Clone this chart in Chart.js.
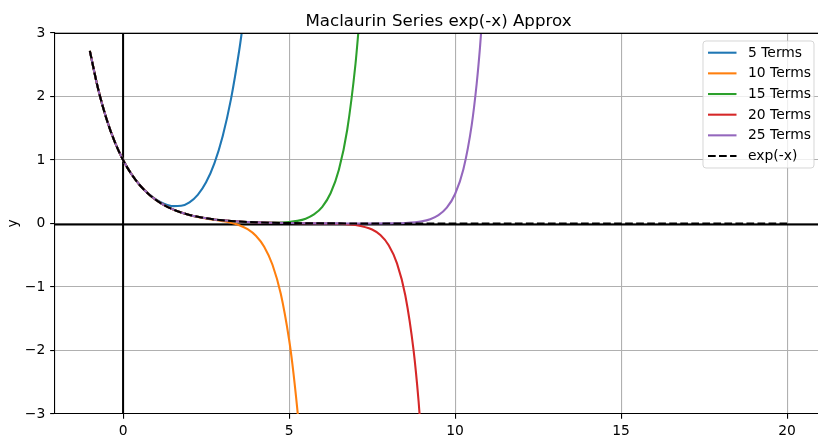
<!DOCTYPE html>
<html>
<head>
<meta charset="utf-8">
<script src="https://cdn.jsdelivr.net/npm/chart.js@4.4.1/dist/chart.umd.min.js"></script>
<style>
  html, body { margin: 0; padding: 0; background: #fff; overflow: hidden; }
  canvas { display: block; }
</style>
</head>
<body>
<canvas id="c" width="818" height="435"></canvas>
<script>
// Maclaurin partial sums of exp(-x), sampled values
const seriesLabels = ['5 Terms', '10 Terms', '15 Terms', '20 Terms', '25 Terms', 'exp(-x)'];
const seriesColors = ['#1f77b4', '#ff7f0e', '#2ca02c', '#d62728', '#9467bd', '#000000'];

const x5  = [-1, -0.75, -0.5, -0.25, 0, 0.25, 0.5, 0.75, 1, 1.25, 1.5, 1.75, 2, 2.25, 2.5, 2.75, 3, 3.25, 3.5, 3.6];
const y5  = [2.7083, 2.1148, 1.6484, 1.2840, 1.0000, 0.7788, 0.6068, 0.4741, 0.3750, 0.3075, 0.2734, 0.2788,
             0.3333, 0.4507, 0.6484, 0.9481, 1.3750, 1.9585, 2.7318, 3.1024];

const x10 = [-1, -0.75, -0.5, -0.25, 0, 0.25, 0.5, 0.75, 1, 1.25, 1.5, 1.75, 2, 2.25, 2.5, 2.75, 3, 3.25, 3.5,
             3.75, 4, 4.25, 4.5, 4.75, 5, 5.1, 5.25, 5.3];
const y10 = [2.7183, 2.1170, 1.6487, 1.2840, 1.0000, 0.7788, 0.6065, 0.4724, 0.3679, 0.2865, 0.2231, 0.1738,
             0.1351, 0.1046, 0.0800, 0.0585, 0.0371, 0.0109, -0.0272, -0.0889, -0.1922, -0.3653, -0.6498,
             -1.1075, -1.8271, -2.2150, -2.9342, -3.2163];

const x15 = [-1, -0.75, -0.5, -0.25, 0, 0.25, 0.5, 0.75, 1, 1.25, 1.5, 1.75, 2, 2.25, 2.5, 2.75, 3, 3.25, 3.5,
             3.75, 4, 4.5, 5, 5.25, 5.5, 5.75, 6, 6.25, 6.5, 6.75, 7, 7.1];
const y15 = [2.7183, 2.1170, 1.6487, 1.2840, 1.0000, 0.7788, 0.6065, 0.4724, 0.3679, 0.2865, 0.2231, 0.1738,
             0.1353, 0.1054, 0.0821, 0.0639, 0.0498, 0.0388, 0.0303, 0.0238, 0.0190, 0.0148, 0.0245, 0.0416,
             0.0763, 0.1423, 0.2628, 0.4766, 0.8466, 1.4729, 2.5120, 3.0934];

const x20 = [-1, -0.75, -0.5, -0.25, 0, 0.25, 0.5, 0.75, 1, 1.25, 1.5, 1.75, 2, 2.25, 2.5, 2.75, 3, 3.25, 3.5,
             3.75, 4, 4.5, 5, 5.5, 6, 6.5, 7, 7.5, 7.75, 8, 8.25, 8.5, 8.75, 8.9, 9];
const y20 = [2.7183, 2.1170, 1.6487, 1.2840, 1.0000, 0.7788, 0.6065, 0.4724, 0.3679, 0.2865, 0.2231, 0.1738,
             0.1353, 0.1054, 0.0821, 0.0639, 0.0498, 0.0388, 0.0302, 0.0235, 0.0183, 0.0111, 0.0067, 0.0039,
             0.0013, -0.0042, -0.0236, -0.0952, -0.1824, -0.3416, -0.6270, -1.1294, -1.9996, -2.7950, -3.4830];

const x25 = [-1, -0.75, -0.5, -0.25, 0, 0.25, 0.5, 0.75, 1, 1.25, 1.5, 1.75, 2, 2.25, 2.5, 2.75, 3, 3.25, 3.5,
             3.75, 4, 4.5, 5, 5.5, 6, 6.5, 7, 7.5, 8, 8.5, 9, 9.25, 9.5, 9.75, 10, 10.25, 10.5, 10.65, 10.75, 10.85];
const y25 = [2.7183, 2.1170, 1.6487, 1.2840, 1.0000, 0.7788, 0.6065, 0.4724, 0.3679, 0.2865, 0.2231, 0.1738,
             0.1353, 0.1054, 0.0821, 0.0639, 0.0498, 0.0388, 0.0302, 0.0235, 0.0183, 0.0111, 0.0067, 0.0041,
             0.0025, 0.0015, 0.0010, 0.0009, 0.0022, 0.0085, 0.0344, 0.0676, 0.1307, 0.2483, 0.4643, 0.8547,
             1.5503, 2.2010, 2.7724, 3.4850];

const xExp = [-1, -0.75, -0.5, -0.25, 0, 0.25, 0.5, 0.75, 1, 1.25, 1.5, 1.75, 2, 2.25, 2.5, 2.75, 3, 3.25, 3.5,
              3.75, 4, 4.5, 5, 5.5, 6, 6.5, 7, 8, 9, 10, 12, 14, 16, 18, 20];
const yExp = [2.7183, 2.1170, 1.6487, 1.2840, 1.0000, 0.7788, 0.6065, 0.4724, 0.3679, 0.2865, 0.2231, 0.1738,
              0.1353, 0.1054, 0.0821, 0.0639, 0.0498, 0.0388, 0.0302, 0.0235, 0.0183, 0.0111, 0.0067, 0.0041,
              0.0025, 0.0015, 0.0009, 0.0003, 0.0001, 0, 0, 0, 0, 0, 0];

const xTicks = [0, 5, 10, 15, 20];
const xTickLabels = ['0', '5', '10', '15', '20'];
const yTicks = [-3, -2, -1, 0, 1, 2, 3];
const yTickLabels = ['\u22123', '\u22122', '\u22121', '0', '1', '2', '3'];

// visible x range (axes run on past the right edge of the canvas)
const xLimits = [-2.05, 20.93];
const xAxesMid = 9.5;       // middle of the full axes span -2.05 .. 21.05
const yLimits = [-3, 3];

const FONT = "'DejaVu Sans', 'Liberation Sans', sans-serif";
const LW = 2.08;            // 1.5 pt line width
const DASH = [7.7, 3.33];   // dashed style for the exact curve

const toPoints = (xs, ys) => xs.map((v, i) => ({ x: v, y: ys[i] }));
const seriesX = [x5, x10, x15, x20, x25, xExp];
const seriesY = [y5, y10, y15, y20, y25, yExp];

const datasets = seriesLabels.map((label, i) => ({
  label,
  data: toPoints(seriesX[i], seriesY[i]),
  borderColor: seriesColors[i],
  backgroundColor: seriesColors[i],
  borderWidth: LW,
  borderDash: i === 5 ? DASH : [],
  pointRadius: 0,
  fill: false,
  cubicInterpolationMode: 'monotone',
  clip: 0,
  // later series are painted over earlier ones
  order: seriesLabels.length - i
}));

const decorations = {
  id: 'decorations',
  beforeDatasetsDraw(chart) {
    // reference lines through the origin
    const { ctx, chartArea: a, scales: { x, y } } = chart;
    ctx.save();
    ctx.beginPath();
    ctx.rect(a.left, a.top, a.right - a.left, a.bottom - a.top);
    ctx.clip();
    ctx.strokeStyle = '#000';
    ctx.lineWidth = 2;
    const x0 = x.getPixelForValue(0);
    const y0 = y.getPixelForValue(0) + 1;
    ctx.beginPath();
    ctx.moveTo(x0, a.top); ctx.lineTo(x0, a.bottom);
    ctx.moveTo(a.left, y0); ctx.lineTo(a.right, y0);
    ctx.stroke();
    ctx.restore();
  },
  afterDatasetsDraw(chart) {
    // top frame line
    const { ctx, chartArea: a } = chart;
    ctx.save();
    ctx.strokeStyle = '#000';
    ctx.lineWidth = 1.1;
    ctx.beginPath();
    ctx.moveTo(a.left, a.top + 0.5);
    ctx.lineTo(a.right, a.top + 0.5);
    ctx.stroke();
    ctx.restore();
  },
  afterDraw(chart) {
    const { ctx, scales: { x } } = chart;
    ctx.save();
    // title, centred over the axes
    ctx.fillStyle = '#000';
    ctx.font = `16.67px ${FONT}`;
    ctx.textAlign = 'center';
    ctx.textBaseline = 'alphabetic';
    ctx.fillText('Maclaurin Series exp(-x) Approx', x.getPixelForValue(xAxesMid), 25.5);

    // legend box in the upper right corner
    const bx = 703, by = 41, bw = 111, bh = 127, r = 3;
    ctx.beginPath();
    ctx.moveTo(bx + r, by);
    ctx.lineTo(bx + bw - r, by); ctx.arcTo(bx + bw, by, bx + bw, by + r, r);
    ctx.lineTo(bx + bw, by + bh - r); ctx.arcTo(bx + bw, by + bh, bx + bw - r, by + bh, r);
    ctx.lineTo(bx + r, by + bh); ctx.arcTo(bx, by + bh, bx, by + bh - r, r);
    ctx.lineTo(bx, by + r); ctx.arcTo(bx, by, bx + r, by, r);
    ctx.closePath();
    ctx.fillStyle = 'rgba(255,255,255,0.8)';
    ctx.fill();
    ctx.strokeStyle = 'rgba(204,204,204,0.8)';
    ctx.lineWidth = 1;
    ctx.stroke();

    ctx.font = `13.89px ${FONT}`;
    ctx.textAlign = 'left';
    ctx.textBaseline = 'middle';
    seriesLabels.forEach((label, i) => {
      const cy = 52.7 + 20.66 * i;
      ctx.strokeStyle = seriesColors[i];
      ctx.lineWidth = LW;
      ctx.setLineDash(i === 5 ? DASH : []);
      ctx.beginPath();
      ctx.moveTo(708, cy); ctx.lineTo(736.5, cy);
      ctx.stroke();
      ctx.setLineDash([]);
      ctx.fillStyle = '#000';
      ctx.fillText(label, 748, cy + 0.5);
    });
    ctx.restore();
  }
};

new Chart(document.getElementById('c'), {
  type: 'line',
  data: { datasets },
  plugins: [decorations],
  options: {
    responsive: false,
    devicePixelRatio: 1,
    animation: false,
    layout: { padding: { top: 33, left: 0, right: 0, bottom: 0 } },
    plugins: { legend: { display: false }, tooltip: { enabled: false }, title: { display: false } },
    scales: {
      x: {
        type: 'linear',
        min: xLimits[0],
        max: xLimits[1],
        afterBuildTicks: s => { s.ticks = xTicks.map(v => ({ value: v })); },
        afterFit: s => { s.height = 21; },
        grid: { color: '#b0b0b0', lineWidth: 1.1, tickColor: '#000', tickLength: 4.86, tickWidth: 1.1 },
        border: { display: true, color: '#000', width: 1.1 },
        ticks: {
          color: '#000', font: { family: FONT, size: 13.89 }, padding: 4, maxRotation: 0,
          callback: (v) => xTickLabels[xTicks.indexOf(v)]
        }
      },
      y: {
        type: 'linear',
        min: yLimits[0],
        max: yLimits[1],
        afterBuildTicks: s => { s.ticks = yTicks.map(v => ({ value: v })); },
        afterFit: s => { s.width = 55; },
        grid: { color: '#b0b0b0', lineWidth: 1.1, tickColor: '#000', tickLength: 4.86, tickWidth: 1.1 },
        border: { display: true, color: '#000', width: 1.1 },
        ticks: {
          color: '#000', font: { family: FONT, size: 13.89 }, padding: 4.86,
          callback: (v) => yTickLabels[yTicks.indexOf(v)]
        },
        title: { display: true, text: 'y', color: '#000', font: { family: FONT, size: 13.89 }, padding: { top: 5.5, bottom: 0 } }
      }
    }
  }
});
</script>
</body>
</html>
